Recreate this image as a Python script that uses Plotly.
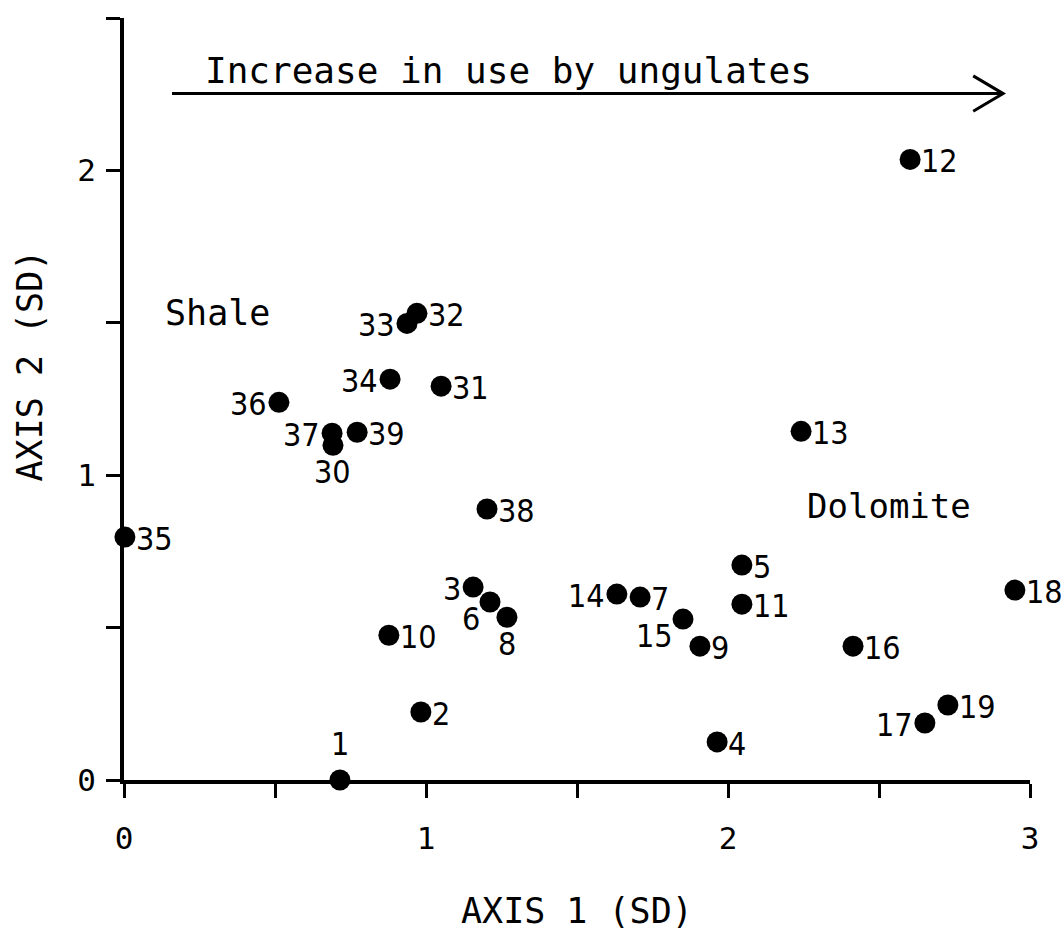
import plotly.graph_objects as go

# Site ordination scores on the first two axes (standard-deviation units)
site_ids = ["1", "2", "3", "4", "5", "6", "7", "8", "9", "10",
            "11", "12", "13", "14", "15", "16", "17", "18", "19",
            "30", "31", "32", "33", "34", "35", "36", "37", "38", "39"]
axis1 = [0.715, 0.983, 1.156, 1.964, 2.046, 1.212, 1.709, 1.268, 1.907, 0.877,
         2.046, 2.603, 2.242, 1.632, 1.851, 2.414, 2.652, 2.950, 2.728,
         0.692, 1.050, 0.970, 0.937, 0.881, 0.003, 0.513, 0.689, 1.202, 0.772]
axis2 = [0.000, 0.223, 0.633, 0.125, 0.705, 0.584, 0.600, 0.534, 0.439, 0.475,
         0.577, 2.036, 1.144, 0.610, 0.528, 0.439, 0.187, 0.623, 0.246,
         1.098, 1.292, 1.531, 1.498, 1.315, 0.797, 1.239, 1.138, 0.889, 1.141]

# Where each site number sits relative to its dot
label_side = {"1": "above", "3": "left", "6": "belowleft", "8": "below",
              "14": "left", "15": "belowleft", "17": "left", "30": "below",
              "33": "left", "34": "left", "36": "left", "37": "left"}

x_ticks = [0, 0.5, 1, 1.5, 2, 2.5, 3]
x_tick_text = ["0", "", "1", "", "2", "", "3"]
y_ticks = [0, 0.5, 1, 1.5, 2, 2.5]
y_tick_text = ["0", "", "1", "", "2", ""]

LABEL_FONT = dict(family="Liberation Sans Narrow, DejaVu Sans Condensed, sans-serif",
                  size=32, color="black")
MONO = "DejaVu Sans Mono, monospace"

fig = go.Figure()
fig.add_trace(go.Scatter(
    x=axis1, y=axis2, mode="markers",
    marker=dict(size=21, color="black"),
    cliponaxis=False, showlegend=False, hoverinfo="text", text=site_ids,
))

annotations = []
for sid, xv, yv in zip(site_ids, axis1, axis2):
    side = label_side.get(sid, "right")
    a = dict(x=xv, y=yv, xref="x", yref="y", text=sid, showarrow=False,
             font=LABEL_FONT, yanchor="middle")
    if side == "right":
        a.update(xanchor="left", xshift=9, yshift=-2)
    elif side == "left":
        a.update(xanchor="right", xshift=-10, yshift=-2)
    elif side == "above":
        a.update(xanchor="center", yshift=36)
    elif side == "below":
        a.update(xanchor="center", yshift=-27)
    elif side == "belowleft":
        a.update(xanchor="right", xshift=-8, yshift=-17)
    annotations.append(a)

# Region labels and the gradient caption
annotations += [
    dict(x=0.129, y=1.531, xref="x", yref="y", text="Shale", showarrow=False,
         xanchor="left", yanchor="middle", font=dict(family=MONO, size=35, color="black")),
    dict(x=2.255, y=0.898, xref="x", yref="y", text="Dolomite", showarrow=False,
         xanchor="left", yanchor="middle", font=dict(family=MONO, size=34, color="black")),
    dict(x=0.262, y=2.328, xref="x", yref="y", text="Increase in use by ungulates",
         showarrow=False, xanchor="left", yanchor="middle",
         font=dict(family=MONO, size=36, color="black")),
    # Axis titles
    dict(x=1.5, y=0, xref="x", yref="paper", yshift=-131, text="AXIS 1 (SD)",
         showarrow=False, xanchor="center", yanchor="middle",
         font=dict(family=MONO, size=35, color="black")),
    dict(x=0, y=1.36, xref="paper", yref="y", xshift=-94, text="AXIS 2 (SD)",
         showarrow=False, textangle=-90, xanchor="center", yanchor="middle",
         font=dict(family=MONO, size=35, color="black")),
]

# Horizontal arrow with an open chevron head
arrow_y = 2.252
x_start, x_end = 0.159, 2.911
shapes = [
    dict(type="line", xref="x", yref="y", x0=x_start, x1=x_end, y0=arrow_y, y1=arrow_y,
         line=dict(color="black", width=3)),
    dict(type="path", xref="x", yref="y",
         path=f"M {x_end - 0.099} {arrow_y + 0.058} L {x_end} {arrow_y} L {x_end - 0.099} {arrow_y - 0.058}",
         line=dict(color="black", width=3)),
]

fig.update_layout(
    width=1064, height=946,
    margin=dict(l=124, r=34, t=18, b=166),
    paper_bgcolor="white", plot_bgcolor="white",
    annotations=annotations, shapes=shapes,
    xaxis=dict(range=[0, 3], showgrid=False, zeroline=False,
               showline=True, linecolor="black", linewidth=4,
               ticks="outside", ticklen=14, tickwidth=3, tickcolor="black",
               tickvals=x_ticks, ticktext=x_tick_text, ticklabelstandoff=14,
               tickfont=dict(family=MONO, size=31, color="black")),
    yaxis=dict(range=[0, 2.5], showgrid=False, zeroline=False,
               showline=True, linecolor="black", linewidth=4,
               ticks="outside", ticklen=14, tickwidth=3, tickcolor="black",
               tickvals=y_ticks, ticktext=y_tick_text, ticklabelstandoff=4,
               tickfont=dict(family=MONO, size=31, color="black")),
)

fig.write_html("out.html")
